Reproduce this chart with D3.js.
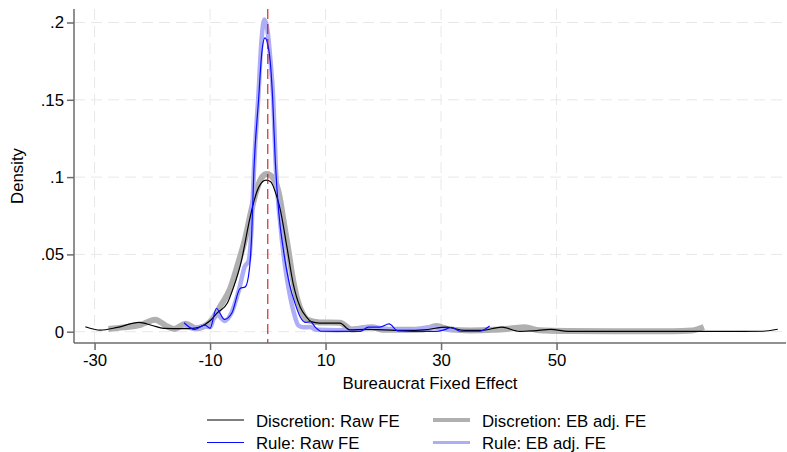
<!DOCTYPE html>
<html>
<head>
<meta charset="utf-8">
<script src="https://cdn.jsdelivr.net/npm/d3@7"></script>
<style>
  body { margin: 0; background: #fff; }
  text { font-family: "Liberation Sans", Arial, sans-serif; }
</style>
</head>
<body>
<svg id="chart"></svg>
<script>
// kernel density estimates: [fixed effect, density]
var discretionRaw = [[-31.6,0.0032],[-29,0.0010],[-26,0.0028],[-22.3,0.0060],[-20,0.0040],[-18,0.0022],[-15,0.0020],
  [-13,0.0022],[-11.7,0.0032],[-10,0.0071],[-8.8,0.012],[-7,0.0185],[-6,0.028],[-4.5,0.047],[-3.4,0.068],[-2.5,0.083],
  [-1.5,0.094],[-0.3,0.098],[0.5,0.097],[1.5,0.088],[2.1,0.080],[3.3,0.055],[4.4,0.031],[5.6,0.016],[6.7,0.0095],
  [7.5,0.0065],[9,0.0056],[12.5,0.0055],[14.2,0.0012],[17,0.0015],[20,0.0012],[24,0.0008],[27,0.0012],[31,0.003],
  [34,0.0008],[37,0.0008],[40.5,0.003],[43.6,0.0002],[46,0.0005],[49,0.0015],[52,0.0002],[60,0.0002],[70,0.0002],
  [80,0.0002],[85.7,0.0003],[88.3,0.0016]];
var discretionEB = [[-27.6,0.0018],[-25,0.0028],[-22,0.0045],[-19.5,0.0078],[-17.5,0.0035],[-16.2,0.0018],[-14.2,0.0052],
  [-12.5,0.0022],[-11,0.0035],[-9.5,0.0085],[-8.3,0.016],[-6.5,0.028],[-5,0.046],[-4,0.059],[-3,0.076],[-2,0.091],
  [-1,0.100],[-0.2,0.102],[1,0.099],[2,0.088],[2.8,0.070],[3.55,0.053],[4.3,0.035],[5.1,0.021],[6,0.012],[7,0.0075],
  [9,0.006],[12.5,0.0058],[14.5,0.0015],[16,0.002],[18,0.0028],[20,0.0012],[24,0.0012],[27,0.0015],[29.2,0.0037],
  [31.5,0.0015],[35,0.0008],[39,0.0012],[42,0.002],[44.5,0.0028],[47,0.001],[52,0.0005],[60,0.0003],[70,0.0003],
  [73.5,0.0008],[75.5,0.003]];
var ruleRaw = [[-14.5,0.0058],[-12.7,0.0015],[-10.9,0.0043],[-10,0.0022],[-8.9,0.015],[-7.5,0.008],[-6.2,0.0123],
  [-4.8,0.028],[-3.9,0.029],[-3.2,0.040],[-2.8,0.062],[-2.4,0.105],[-1.6,0.15],[-1.05,0.18],[-0.5,0.19],[0.26,0.18],
  [0.85,0.15],[1.3,0.11],[1.9,0.077],[2.7,0.053],[3.8,0.03],[4.7,0.0185],[5.6,0.0097],[6.6,0.006],[7.4,0.0065],
  [8.2,0.003],[9.2,0.0003],[12,0.0002],[16,0.0002],[17.4,0.003],[19.4,0.003],[21,0.005],[22.5,0.0005],[25,0.0002],
  [29,0.0002],[30.4,0.001],[31.8,0.0028],[33.3,0.0003],[36.7,0.0003],[38.4,0.0037]];
var ruleEB = [[-14.5,0.0045],[-12.8,0.002],[-11,0.0035],[-10,0.003],[-9,0.012],[-7.5,0.007],[-6.2,0.013],[-5,0.027],
  [-4,0.042],[-3.3,0.046],[-2.8,0.068],[-2.4,0.105],[-1.6,0.155],[-1.1,0.188],[-0.6,0.202],[-0.1,0.196],[0.4,0.178],
  [0.95,0.15],[1.4,0.105],[2.1,0.072],[3,0.042],[3.8,0.024],[4.6,0.011],[5.3,0.004],[6.2,0.0028],[7.3,0.003],
  [8.5,0.0012],[12,0.001],[15,0.0012],[17.2,0.003],[19,0.0025],[21,0.0015],[24,0.001],[28.5,0.003],[30,0.002],[32,0.001]];

var xTicks = [-30, -10, 10, 30, 50];
var yTicks = [0, 0.05, 0.1, 0.15, 0.2];
var refLine = 0;
var legendLabels = ["Discretion: Raw FE", "Rule: Raw FE", "Discretion: EB adj. FE", "Rule: EB adj. FE"];

var width = 787, height = 452;
var margin = {top: 9, right: 1, bottom: 109, left: 74};
var fontSize = "16.8px";

var svg = d3.select("#chart").attr("width", width).attr("height", height);

var x = d3.scaleLinear().domain([-33.56, 89.73]).range([margin.left, width - margin.right]);
var y = d3.scaleLinear().domain([-0.00731, 0.20873]).range([height - margin.bottom, margin.top]);

// dashed grid
svg.append("g").selectAll("line").data(yTicks).enter().append("line")
    .attr("x1", margin.left).attr("x2", width - margin.right)
    .attr("y1", function (d) { return y(d); }).attr("y2", function (d) { return y(d); })
    .attr("stroke", "#e8e8e8").attr("stroke-dasharray", "11,6");
svg.append("g").selectAll("line").data(xTicks).enter().append("line")
    .attr("y1", margin.top).attr("y2", height - margin.bottom)
    .attr("x1", function (d) { return x(d); }).attr("x2", function (d) { return x(d); })
    .attr("stroke", "#e8e8e8").attr("stroke-dasharray", "11,6");

var line = d3.line()
    .x(function (d) { return x(d[0]); })
    .y(function (d) { return y(d[1]); })
    .curve(d3.curveMonotoneX);

var series = [
    {data: discretionEB, color: "#b0b0b0", w: 6},
    {data: ruleEB, color: "#aeaef6", w: 4.5},
    {data: discretionRaw, color: "#000000", w: 1.2},
    {data: ruleRaw, color: "#0a0aff", w: 1.2}
];
series.forEach(function (s) {
    svg.append("path").datum(s.data)
        .attr("fill", "none").attr("stroke", s.color)
        .attr("stroke-width", s.w).attr("stroke-linejoin", "round")
        .attr("d", line);
});

svg.append("line")
    .attr("x1", x(refLine)).attr("x2", x(refLine))
    .attr("y1", margin.top).attr("y2", height - margin.bottom)
    .attr("stroke", "#c80000").attr("stroke-dasharray", "10,5");

// axes
var yAxis = svg.append("g")
    .attr("transform", "translate(" + margin.left + ",0)")
    .call(d3.axisLeft(y).tickValues(yTicks).tickSize(7).tickPadding(3)
        .tickFormat(function (d) { return d === 0 ? "0" : d3.format(".2~f")(d).replace(/^0/, ""); }));
var xAxis = svg.append("g")
    .attr("transform", "translate(0," + (height - margin.bottom) + ")")
    .call(d3.axisBottom(x).tickValues(xTicks).tickSize(7).tickPadding(4)
        .tickFormat(function (d) { return String(d); }));
[xAxis, yAxis].forEach(function (a) {
    a.select(".domain").attr("stroke", "#6b6b6b").attr("stroke-width", 1.5)
        .attr("d", a === xAxis ? "M" + margin.left + ",0H" + (width - margin.right) : "M0," + margin.top + "V" + (height - margin.bottom));
    a.selectAll(".tick line").attr("stroke", "#6b6b6b").attr("stroke-width", 1.5);
    a.selectAll("text").style("font-size", fontSize).attr("fill", "#000");
});

svg.append("text")
    .attr("x", (margin.left + width - margin.right) / 2).attr("y", 389)
    .attr("text-anchor", "middle").style("font-size", fontSize)
    .text("Bureaucrat Fixed Effect");
svg.append("text")
    .attr("transform", "translate(23," + ((margin.top + height - margin.bottom) / 2) + ")rotate(-90)")
    .attr("text-anchor", "middle").style("font-size", fontSize)
    .text("Density");

// legend, two columns
var legendItems = [
    {label: legendLabels[0], color: "#000000", w: 1.2, col: 0, row: 0},
    {label: legendLabels[1], color: "#0a0aff", w: 1.2, col: 0, row: 1},
    {label: legendLabels[2], color: "#b0b0b0", w: 4, col: 1, row: 0},
    {label: legendLabels[3], color: "#aeaef6", w: 3, col: 1, row: 1}
];
var legend = svg.append("g").selectAll("g").data(legendItems).enter().append("g")
    .attr("transform", function (d) { return "translate(" + (d.col ? 433 : 207) + "," + (420 + d.row * 22.5) + ")"; });
legend.append("line").attr("x1", 0).attr("x2", 37)
    .attr("stroke", function (d) { return d.color; })
    .attr("stroke-width", function (d) { return d.w; });
legend.append("text").attr("x", 49).attr("y", 6.5)
    .style("font-size", fontSize)
    .text(function (d) { return d.label; });
</script>
</body>
</html>
